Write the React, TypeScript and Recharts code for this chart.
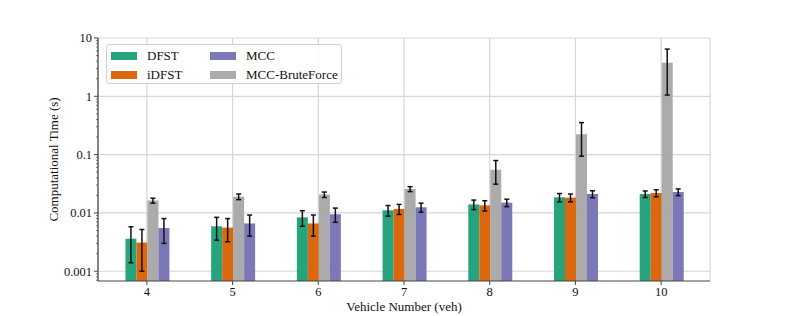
import React from "react";
import {
  BarChart,
  Bar,
  XAxis,
  YAxis,
  CartesianGrid,
  ErrorBar,
} from "recharts";

// vehicle counts on the x axis
const categories = ["4", "5", "6", "7", "8", "9", "10"];

// mean computational time (s) and std per method
const dfst = [0.0036, 0.0059, 0.0084, 0.0111, 0.014, 0.0185, 0.0211];
const dfstErr = [0.0022, 0.0025, 0.0025, 0.0023, 0.0026, 0.003, 0.0027];
const idfst = [0.0031, 0.0056, 0.0066, 0.0117, 0.0135, 0.0183, 0.0219];
const idfstErr = [0.0021, 0.0024, 0.0026, 0.0023, 0.0027, 0.0028, 0.003];
const bruteForce = [0.0163, 0.019, 0.0206, 0.0257, 0.0551, 0.224, 3.75];
const bruteForceErr = [0.0016, 0.0021, 0.0022, 0.0025, 0.024, 0.13, 2.7];
const mcc = [0.0055, 0.0066, 0.0095, 0.0125, 0.015, 0.0211, 0.0228];
const mccErr = [0.0025, 0.0026, 0.0026, 0.0022, 0.0022, 0.0029, 0.003];

const decades = [0.001, 0.01, 0.1, 1, 10];
const decadeLabels = ["0.001", "0.01", "0.1", "1", "10"];
const minorTicks = [0.0007, 0.0008, 0.0009].concat(
  ...decades.slice(0, 4).map((d) =>
    [2, 3, 4, 5, 6, 7, 8, 9].map((m) => Number((m * d).toPrecision(3)))
  )
);
const yTicks = [...minorTicks, ...decades].sort((a, b) => a - b);

const series = [
  { key: "dfst", name: "DFST", color: "#1b9e77" },
  { key: "idfst", name: "iDFST", color: "#d95f02" },
  { key: "bruteForce", name: "MCC-BruteForce", color: "#a6a6a6" },
  { key: "mcc", name: "MCC", color: "#7570b3" },
];
// legend is laid out column-wise like matplotlib ncol=2
const legendOrder = ["dfst", "idfst", "mcc", "bruteForce"];

const data = categories.map((veh, i) => ({
  veh,
  dfst: dfst[i],
  dfstErr: dfstErr[i],
  idfst: idfst[i],
  idfstErr: idfstErr[i],
  bruteForce: bruteForce[i],
  bruteForceErr: bruteForceErr[i],
  mcc: mcc[i],
  mccErr: mccErr[i],
}));

const FONT = '"Liberation Serif", "Times New Roman", serif';
const SPINE = "#444";

const YTick = (props: any) => {
  const { x, y, payload } = props;
  const idx = decades.indexOf(payload.value);
  const major = idx >= 0;
  return (
    <g>
      <line x1={x - (major ? 4 : 2)} x2={x} y1={y} y2={y} stroke={SPINE} strokeWidth={major ? 1 : 0.7} />
      {major && (
        <text x={x - 6} y={y} dy="0.35em" textAnchor="end" fontSize={12.5} fontFamily={FONT} fill="#111">
          {decadeLabels[idx]}
        </text>
      )}
    </g>
  );
};

const XTick = (props: any) => {
  const { x, y, payload } = props;
  return (
    <text x={x} y={y} dy="0.68em" textAnchor="middle" fontSize={12.5} fontFamily={FONT} fill="#111">
      {payload.value}
    </text>
  );
};

const Legend2 = () => (
  <div
    style={{
      position: "absolute",
      left: 106,
      top: 44,
      width: 236,
      height: 40,
      border: "1px solid #d0d0d0",
      borderRadius: 3,
      background: "rgba(255,255,255,0.85)",
      display: "grid",
      gridTemplateColumns: "99px 130px",
      gridAutoFlow: "column",
      gridTemplateRows: "19px 19px",
      paddingLeft: 4,
      paddingTop: 1,
      boxSizing: "border-box",
      fontFamily: FONT,
      fontSize: 13,
      color: "#111",
    }}
  >
    {legendOrder.map((k) => {
      const s = series.find((e) => e.key === k)!;
      return (
        <div key={k} style={{ display: "flex", alignItems: "center" }}>
          <span style={{ width: 26, height: 8, background: s.color, opacity: 0.95, marginRight: 10 }} />
          <span>{s.name}</span>
        </div>
      );
    })}
  </div>
);

export default function App() {
  return (
    <div style={{ position: "absolute", left: 0, top: 0, width: 789, height: 316, background: "#fff" }}>
      <BarChart
        width={789}
        height={316}
        data={data}
        margin={{ top: 38, right: 79, left: 38, bottom: 0 }}
        barCategoryGap="25%"
        barGap={0}
      >
        <CartesianGrid stroke="#d6d6d6" strokeWidth={1.2} horizontalValues={decades} />
        <XAxis
          dataKey="veh"
          padding={{ left: 6, right: 6 }}
          height={35}
          tickSize={4}
          tickMargin={2}
          tickLine={{ stroke: SPINE }}
          axisLine={{ stroke: SPINE, strokeWidth: 1.2 }}
          tick={<XTick />}
          label={{
            value: "Vehicle Number (veh)",
            position: "insideBottom",
            offset: 5,
            style: { fontSize: 13, fontFamily: FONT, fill: "#111" },
          }}
        />
        <XAxis
          xAxisId="top"
          orientation="top"
          dataKey="veh"
          height={0}
          tick={false}
          tickLine={false}
          axisLine={{ stroke: SPINE, strokeWidth: 1.2 }}
        />
        <YAxis
          scale="log"
          domain={[0.00068, 10]}
          allowDataOverflow
          ticks={yTicks}
          interval={0}
          width={60}
          tickSize={0}
          tickMargin={0}
          tickLine={false}
          tick={<YTick />}
          axisLine={{ stroke: SPINE, strokeWidth: 1.2 }}
          label={{
            value: "Computational Time (s)",
            angle: -90,
            position: "insideLeft",
            offset: 15,
            style: { textAnchor: "middle", fontSize: 13, fontFamily: FONT, fill: "#111" },
          }}
        />
        <YAxis
          yAxisId="right"
          orientation="right"
          domain={[0, 1]}
          width={0}
          tick={false}
          tickLine={false}
          axisLine={{ stroke: SPINE, strokeWidth: 1.2 }}
        />
        {series.map((s) => (
          <Bar key={s.key} dataKey={s.key} name={s.name} fill={s.color} fillOpacity={0.95} isAnimationActive={false}>
            <ErrorBar dataKey={`${s.key}Err`} width={2.5} stroke="#111" strokeWidth={1.5} direction="y" />
          </Bar>
        ))}
      </BarChart>
      <Legend2 />
    </div>
  );
}
